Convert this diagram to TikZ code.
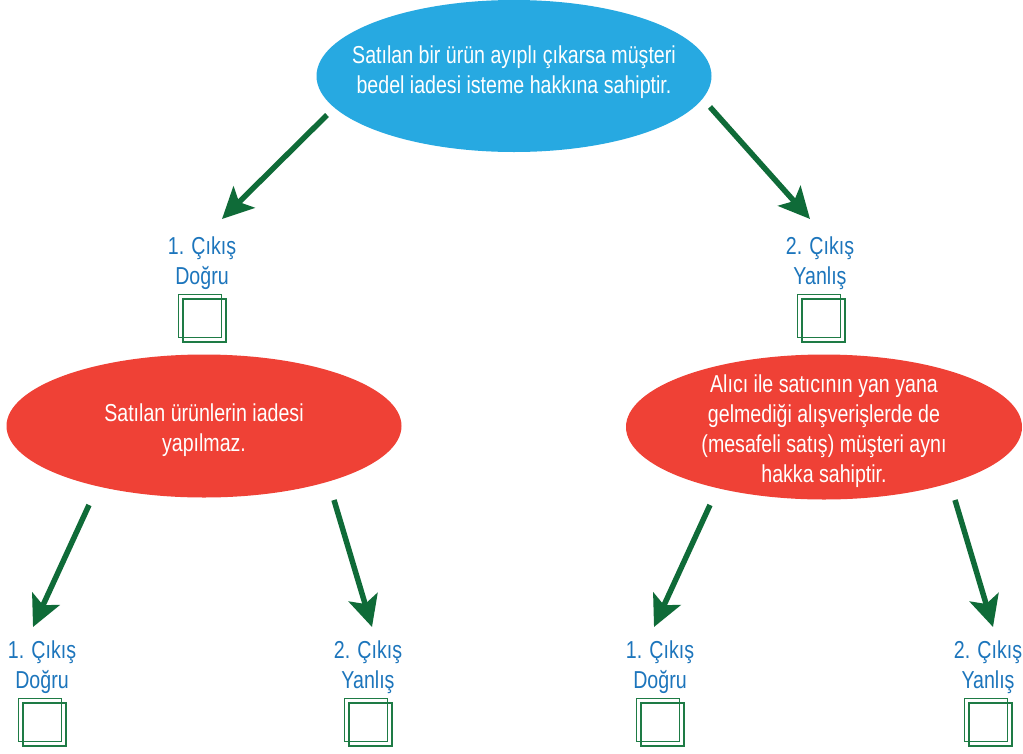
\documentclass[tikz,border=0pt]{standalone}
\usepackage{fontspec}
\setmainfont{Liberation Sans}[FakeStretch=0.8]
\usetikzlibrary{arrows.meta,shapes.geometric}
\definecolor{ellblue}{HTML}{27A9E1}
\definecolor{ellred}{HTML}{EF4136}
\definecolor{arrgreen}{HTML}{0F6B38}
\definecolor{boxgreen}{HTML}{1E7B45}
\definecolor{lblblue}{HTML}{1C75BC}
\tikzset{
  bubble/.style={ellipse, inner sep=0pt, draw=none},
  btext/.style={text=white, align=center, font=\fontsize{24.5}{30}\selectfont},
  lbl/.style={text=lblblue, align=center, font=\fontsize{24.5}{30}\selectfont},
  chk/.style={draw=boxgreen, line width=1.9pt, minimum size=43pt, inner sep=0pt},
  arr/.style={draw=arrgreen, line width=5.5pt, -{Stealth[length=31pt,width=30pt,inset=7pt]}}
}
\begin{document}
\begin{tikzpicture}[x=1pt,y=-1pt]
\useasboundingbox (0,0) rectangle (1023,753);
\fill[white] (0,0) rectangle (1023,753);
% ellipses
\node[bubble, fill=ellblue, minimum width=395pt, minimum height=152pt] (top) at (514,76) {};
\node[btext] (toptext) at (514,72) {Satılan bir ürün ayıplı çıkarsa müşteri\\bedel iadesi isteme hakkına sahiptir.};
\node[bubble, fill=ellred, minimum width=395pt, minimum height=143pt] (left) at (204,426) {};
\node[btext] (lefttext) at (204,430) {Satılan ürünlerin iadesi\\yapılmaz.};
\node[bubble, fill=ellred, minimum width=396pt, minimum height=145pt] (right) at (824,427) {};
\node[btext] (righttext) at (824,431) {Alıcı ile satıcının yan yana\\gelmediği alışverişlerde de\\(mesafeli satış) müşteri aynı\\hakka sahiptir.};
% labels
\node[lbl] (l1) at (202,263) {1. Çıkış\\Doğru};
\node[lbl] (l2) at (820,263) {2. Çıkış\\Yanlış};
\node[lbl] (l3) at (42,667) {1. Çıkış\\Doğru};
\node[lbl] (l4) at (368,667) {2. Çıkış\\Yanlış};
\node[lbl] (l5) at (660,667) {1. Çıkış\\Doğru};
\node[lbl] (l6) at (988,667) {2. Çıkış\\Yanlış};
% check boxes
\foreach \n/\cx/\cy in {b1/200/316, b2/819/316, b3/40/720, b4/366/720, b5/658/720, b6/986/720}{
  \node[chk] (\n a) at (\cx,\cy) {};
  \node[chk] (\n b) at ([xshift=4.5pt,yshift=-4.5pt]\n a.center) {};
}
% arrow coordinates
\coordinate (s1) at (327,115); \coordinate (t1) at (222,219);
\coordinate (s2) at (710,107); \coordinate (t2) at (810,219);
\coordinate (s3) at (89,505);  \coordinate (t3) at (33,627);
\coordinate (s4) at (334,500); \coordinate (t4) at (372,627);
\coordinate (s5) at (710,505); \coordinate (t5) at (654,627);
\coordinate (s6) at (955,500); \coordinate (t6) at (993,627);
\foreach \i in {1,...,6}{
  \draw[arr] (s\i) -- (t\i);
}
\end{tikzpicture}
\end{document}
